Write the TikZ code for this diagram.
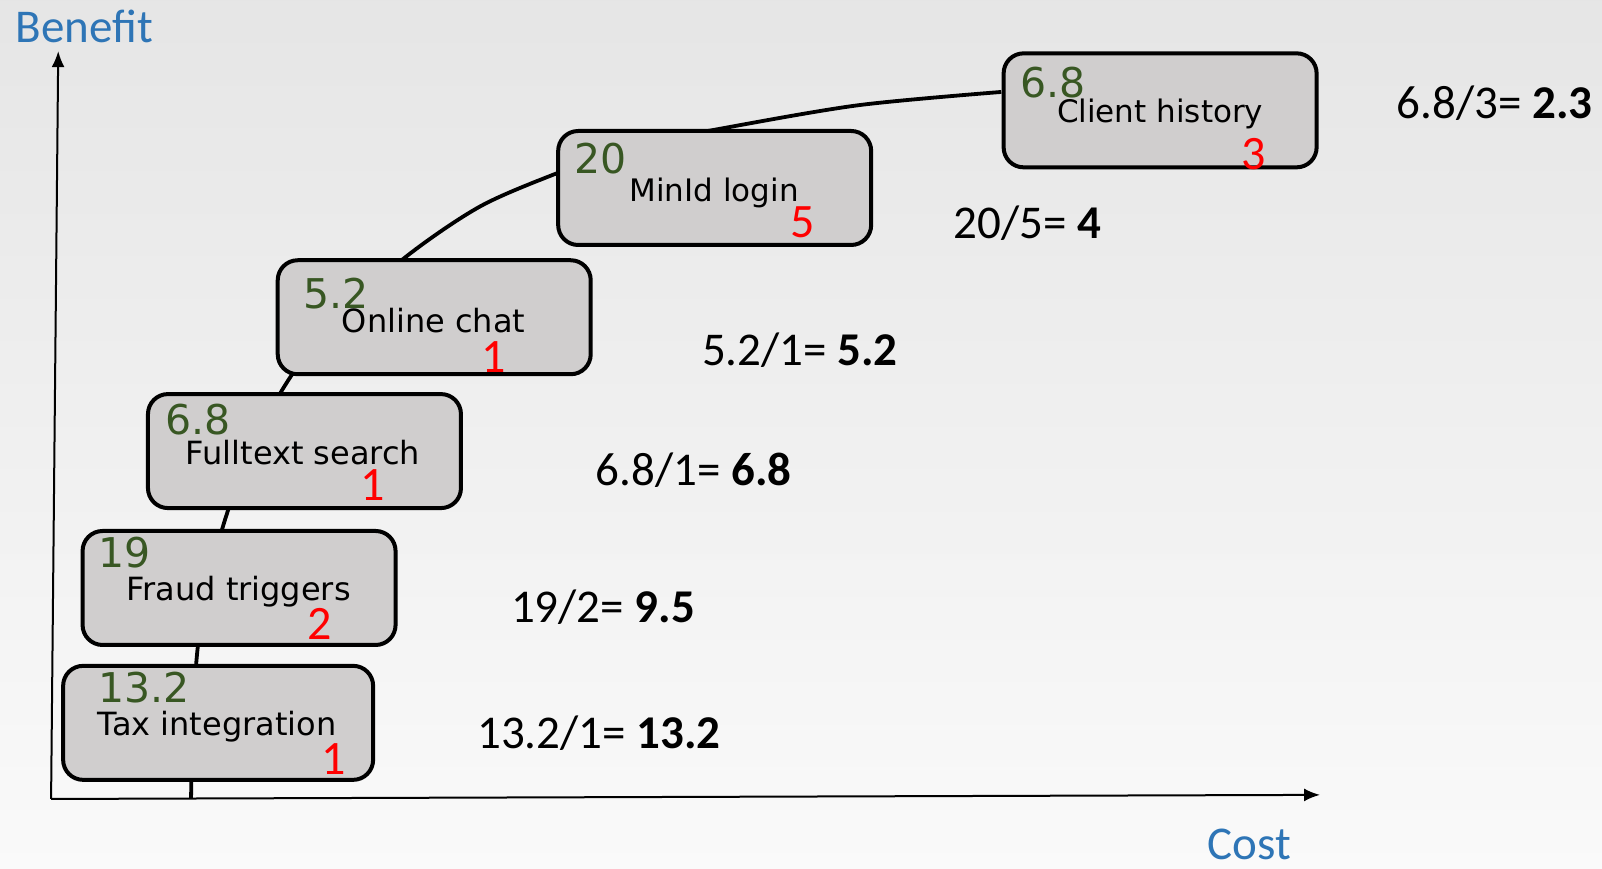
\documentclass[tikz,border=0pt]{standalone}
\usepackage{fontspec}
\setmainfont{DejaVu Sans}
\newfontfamily\calfont{Carlito}
\usetikzlibrary{arrows.meta, shapes, backgrounds}
\definecolor{boxgray}{HTML}{D0CECE}
\definecolor{gaingreen}{HTML}{385723}
\definecolor{axisblue}{HTML}{2E75B6}
\tikzstyle{axis} = [line width=2pt,-{Latex[length=16pt,width=13pt]}]
\tikzset{box/.style={
    draw, line width=4pt, rounded corners=20pt, fill=boxgray,
    minimum width=313pt, minimum height=114pt, inner sep=0pt,
  },
  gain/.style={text=gaingreen, font=\fontsize{41}{44}\selectfont, inner sep=0pt, anchor=base west},
  item/.style={font=\fontsize{32}{36}\selectfont, inner sep=0pt, anchor=base},
  effort/.style={text=red, font=\calfont\fontsize{48}{50}\selectfont, inner sep=0pt, anchor=base east},
  ratio/.style={font=\calfont\fontsize{47}{50}\selectfont, inner sep=0pt, anchor=base west},
  axislabel/.style={text=axisblue, font=\calfont\fontsize{47}{50}\selectfont, inner sep=0pt, anchor=base west},
}

\begin{document}
\begin{tikzpicture}[x=1.0217pt, y=-1.0217pt]
        \shade[top color=black!10, bottom color=black!2] (0,0) rectangle (1568,850.5);
        \useasboundingbox (0,0) rectangle (1568,850.5);

        % the curve runs behind the boxes
        \draw[line width=3.8pt] plot[smooth, tension=0.5] coordinates {(187,781) (188,740) (192,650) (200,590) (218,516) (240,455) (276,382) (325,315) (399,250) (470,202) (544,170) (620,143) (705,126) (840,103) (980,90)};

        \coordinate (origin) at (50,782);
        \coordinate (ytop) at (57,50);
        \coordinate (xend) at (1292,778);
        \draw[axis] (origin) -- (ytop);
        \draw[axis] (origin) -- (xend);
        \node[axislabel] (benefit) at (15,42) {Benefit};
        \node[axislabel] (cost) at (1182,841) {Cost};

        \node[box, minimum width=310pt] (tax) at (213.5,707.5) {};
        \node[box] (fraud) at (234,575.5) {};
        \node[box] (fulltext) at (298,441.5) {};
        \node[box] (chat) at (425,310.5) {};
        \node[box] (minid) at (699.5,184) {};
        \node[box] (history) at (1135.5,108) {};

        \node[gain] (taxgain) at (96,688) {13.2};
        \node[item] (taxname) at (212.5,720) {Tax integration};
        \node[effort] (taxcost) at (339,758) {1};

        \node[gain] (fraudgain) at (96,555) {19};
        \node[item] (fraudname) at (233.5,588) {Fraud triggers};
        \node[effort] (fraudcost) at (325,626) {2};

        \node[gain] (fulltextgain) at (162,425) {6.8};
        \node[item] (fulltextname) at (296.5,455) {Fulltext search};
        \node[effort] (fulltextcost) at (377,490) {1};

        \node[gain] (chatgain) at (297,302) {5.2};
        \node[item] (chatname) at (424.5,325) {Online chat};
        \node[effort] (chatcost) at (495,365) {1};

        \node[gain] (minidgain) at (562,170) {20};
        \node[item, font=\fontsize{31}{36}\selectfont] (minidname) at (699,197) {MinId login};
        \node[effort] (minidcost) at (798,232) {5};

        \node[gain] (historygain) at (999,95) {6.8};
        \node[item, font=\fontsize{31}{36}\selectfont] (historyname) at (1135.5,120) {Client history};
        \node[effort] (historycost) at (1239,166) {3};

        \node[ratio] (historyratio) at (1367,116) {6.8/3= \textbf{2.3}};
        \node[ratio] (minidratio) at (933,233) {20/5= \textbf{4}};
        \node[ratio] (chatratio) at (687,358) {5.2/1= \textbf{5.2}};
        \node[ratio] (fulltextratio) at (583,475) {6.8/1= \textbf{6.8}};
        \node[ratio] (fraudratio) at (500,609) {19/2= \textbf{9.5}};
        \node[ratio] (taxratio) at (467,733) {13.2/1= \textbf{13.2}};
    \end{tikzpicture}
\end{document}
